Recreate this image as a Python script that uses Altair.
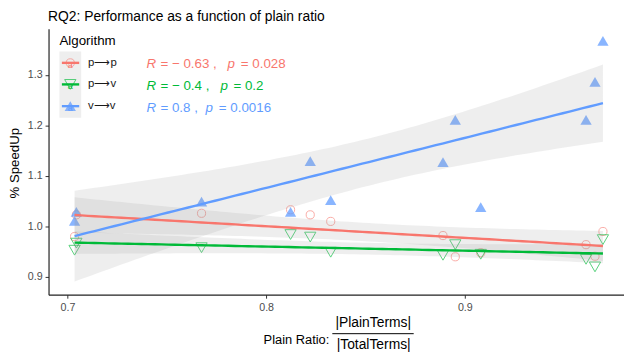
import altair as alt
import numpy as np
import pandas as pd

# ---------------- data ----------------
ALGORITHMS = ["p⟶p", "p⟶v", "v⟶v"]
COLORS = ["#F8766D", "#00BA38", "#619CFF"]
RATIO = [0.7036, 0.7045, 0.7675, 0.8123, 0.8222, 0.8325, 0.8890, 0.8952, 0.9080, 0.9610, 0.9655, 0.9695]
SPEEDUP_PP = [0.980, 1.023, 1.026, 1.033, 1.023, 1.010, 0.982, 0.940, 0.948, 0.964, 0.941, 0.990]
SPEEDUP_PV = [0.953, 0.967, 0.958, 0.984, 0.979, 0.949, 0.943, 0.964, 0.945, 0.935, 0.920, 0.974]
SPEEDUP_VV = [1.011, 1.029, 1.049, 1.029, 1.129, 1.052, 1.127, 1.211, 1.038, 1.211, 1.286, 1.367]
R_LABELS = ["= − 0.63 ,", "= − 0.4 ,", "= 0.8 ,"]
P_LABELS = ["= 0.028", "= 0.2", "= 0.0016"]
X_TICKS = [0.7, 0.8, 0.9]
Y_TICKS = [0.9, 1.0, 1.1, 1.2, 1.3]

SERIES = [SPEEDUP_PP, SPEEDUP_PV, SPEEDUP_VV]
T975_DF10 = 2.228  # Student t 97.5% quantile, 10 degrees of freedom (n = 12)

FONT = "Liberation Sans"

rows = []
for cat, ys in zip(ALGORITHMS, SERIES):
    for x, y in zip(RATIO, ys):
        rows.append({"ratio": x, "speedup": y, "Algorithm": cat})
df = pd.DataFrame(rows)

# linear fit + 95% confidence band (as geom_smooth(method = "lm"))
band_rows = []
for cat, ys in zip(ALGORITHMS, SERIES):
    x = np.array(RATIO)
    y = np.array(ys)
    n = len(x)
    b, a = np.polyfit(x, y, 1)
    resid = y - (a + b * x)
    s = np.sqrt((resid ** 2).sum() / (n - 2))
    sxx = ((x - x.mean()) ** 2).sum()
    grid = np.linspace(x.min(), x.max(), 80)
    fit = a + b * grid
    se = s * np.sqrt(1.0 / n + (grid - x.mean()) ** 2 / sxx)
    for g, f, e in zip(grid, fit, se):
        band_rows.append({"ratio": g, "fit": f, "lo": f - T975_DF10 * e,
                          "hi": f + T975_DF10 * e, "Algorithm": cat})
band_df = pd.DataFrame(band_rows)

# ---------------- scales / axes ----------------
xscale = alt.Scale(domain=[0.6905, 0.9801], nice=False, zero=False)
yscale = alt.Scale(domain=[0.865, 1.391], nice=False, zero=False)
color_scale = alt.Scale(domain=ALGORITHMS, range=COLORS)

axis_common = dict(grid=False, title=None, format=".1f", domainColor="#222222",
                   tickColor="#333333", labelColor="#4d4d4d", labelFontSize=10.8,
                   labelFont=FONT, tickSize=3.5, domainWidth=1.2, tickWidth=1)
xaxis = alt.Axis(values=X_TICKS, labelPadding=3, **axis_common)
yaxis = alt.Axis(values=Y_TICKS, labelPadding=3, **axis_common)

X = alt.X("ratio:Q", scale=xscale, axis=xaxis)

one = pd.DataFrame({"k": [0]})

layers = []

# points
point_styles = [
    dict(shape="circle", filled=False, size=68, strokeWidth=1, opacity=0.6),
    dict(shape="triangle-down", filled=False, size=130, strokeWidth=1, opacity=0.65),
    dict(shape="triangle-up", filled=True, size=130, opacity=0.75),
]
for cat, col, st in zip(ALGORITHMS, COLORS, point_styles):
    layers.append(
        alt.Chart(df).transform_filter(alt.datum.Algorithm == cat)
        .mark_point(color=col, **st)
        .encode(x=X, y=alt.Y("speedup:Q", scale=yscale, axis=yaxis))
    )

# confidence bands
layers.append(
    alt.Chart(band_df).mark_area(color="#999999", opacity=0.17)
    .encode(x=X, y=alt.Y("lo:Q", scale=yscale, axis=yaxis), y2="hi:Q",
            detail="Algorithm:N")
)
# fitted lines
layers.append(
    alt.Chart(band_df).mark_line(strokeWidth=2.4)
    .encode(x=X, y=alt.Y("fit:Q", scale=yscale, axis=yaxis),
            color=alt.Color("Algorithm:N", scale=color_scale, legend=None),
            detail="Algorithm:N")
)

# ---------------- manual legend ----------------
legend_y = [34.5, 56.3, 78.3]
annot_y = [35.7, 58.0, 79.7]
layers.append(
    alt.Chart(one).mark_rect(color="#eeeeee")
    .encode(x=alt.value(11), x2=alt.value(33), y=alt.value(23), y2=alt.value(90))
)
layers.append(
    alt.Chart(one).mark_text(align="left", baseline="alphabetic", font=FONT,
                             fontSize=13.5, color="#000000")
    .encode(x=alt.value(11), y=alt.value(16), text=alt.value("Algorithm"))
)
for i, (cat, col, st) in enumerate(zip(ALGORITHMS, COLORS, point_styles)):
    ly = legend_y[i]
    layers.append(
        alt.Chart(one).mark_rule(color=col, strokeWidth=2.4)
        .encode(x=alt.value(13.5), x2=alt.value(31), y=alt.value(ly))
    )
    layers.append(
        alt.Chart(one).mark_point(color=col, **st)
        .encode(x=alt.value(22), y=alt.value(ly))
    )
    layers.append(
        alt.Chart(one).mark_text(font=FONT, fontSize=9, color=col, baseline="middle")
        .encode(x=alt.value(22), y=alt.value(ly + 2), text=alt.value("a"))
    )
    layers.append(
        alt.Chart(one).mark_text(align="left", baseline="middle", font=FONT,
                                 fontSize=11.5, color="#1a1a1a")
        .encode(x=alt.value(40), y=alt.value(ly), text=alt.value(cat))
    )

# ---------------- correlation annotations ----------------
p_x = [181.0, 173.8, 158.8]
peq_x = [194.5, 187.0, 172.2]
for i, col in enumerate(COLORS):
    ay = annot_y[i]
    segs = [("R", 99.0, "italic"), (R_LABELS[i], 113.2, "normal"),
            ("p", p_x[i], "italic"), (P_LABELS[i], peq_x[i], "normal")]
    for txt, sx, style in segs:
        layers.append(
            alt.Chart(one).mark_text(align="left", baseline="middle", font=FONT,
                                     fontSize=13.5, color=col, fontStyle=style)
            .encode(x=alt.value(sx), y=alt.value(ay), text=alt.value(txt))
        )

# ---------------- titles ----------------
layers.append(
    alt.Chart(one).mark_text(align="left", baseline="alphabetic", font=FONT,
                             fontSize=14, color="#000000")
    .encode(x=alt.value(-0.5), y=alt.value(-8.2),
            text=alt.value("RQ2: Performance as a function of plain ratio"))
)
layers.append(
    alt.Chart(one).mark_text(align="center", baseline="middle", font=FONT,
                             fontSize=13.4, angle=270, color="#000000")
    .encode(x=alt.value(-34), y=alt.value(136), text=alt.value("% SpeedUp"))
)
layers.append(
    alt.Chart(one).mark_text(align="left", baseline="alphabetic", font=FONT,
                             fontSize=13, color="#000000")
    .encode(x=alt.value(217.5), y=alt.value(318.5), text=alt.value("Plain Ratio:"))
)
layers.append(
    alt.Chart(one).mark_text(align="center", baseline="alphabetic", font=FONT,
                             fontSize=14, color="#000000")
    .encode(x=alt.value(328.4), y=alt.value(301.2), text=alt.value("|PlainTerms|"))
)
layers.append(
    alt.Chart(one).mark_rule(color="#000000", strokeWidth=1)
    .encode(x=alt.value(287), x2=alt.value(369.3), y=alt.value(308.4))
)
layers.append(
    alt.Chart(one).mark_text(align="center", baseline="alphabetic", font=FONT,
                             fontSize=14, color="#000000")
    .encode(x=alt.value(328.8), y=alt.value(324.0), text=alt.value("|TotalTerms|"))
)

chart = (
    alt.layer(*layers)
    .properties(width=582, height=269,
                autosize=alt.AutoSizeParams(type="none"),
                padding={"left": 41, "top": 19, "right": 0, "bottom": 60})
    .configure_view(strokeWidth=0)
)

chart.save("out.html", embed_options={"renderer": "svg", "actions": False})
